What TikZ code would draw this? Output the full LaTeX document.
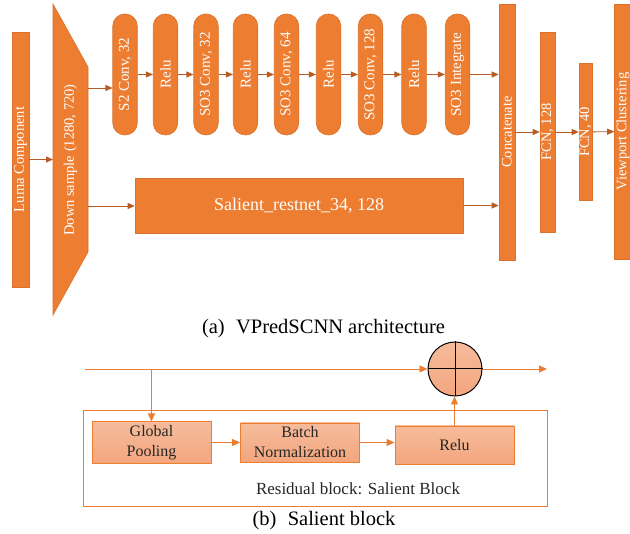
\documentclass[tikz,border=0pt]{standalone}
\usepackage{fontspec}
\setmainfont{Liberation Serif}
\usetikzlibrary{arrows.meta}
\definecolor{orfill}{HTML}{ED7D31}
\definecolor{ordraw}{HTML}{D9722C}
\definecolor{orarrow}{HTML}{B85C24}
\definecolor{salmontop}{HTML}{F6BC9C}
\definecolor{salmonbot}{HTML}{F3A67E}

\begin{document}
\begin{tikzpicture}[x=1pt,y=-1pt,
    blk/.style={draw=ordraw,fill=orfill,text=white,line width=0.6pt,inner sep=0pt,
      font=\fontsize{14.5}{16}\selectfont},
    layer/.style={blk,rotate=90},
    pill/.style={layer,rounded corners=12pt,minimum width=121pt,minimum height=24.5pt},
    link/.style={draw=orarrow,line width=0.8pt,-{Triangle[length=7pt,width=6pt]}},
    sbox/.style={draw=orfill,line width=0.8pt,top color=salmontop,bottom color=salmonbot,
      text=black!85,align=center,minimum width=119pt,minimum height=39pt,
      font=\fontsize{16}{20}\selectfont},
    flow/.style={draw=orfill,line width=0.9pt,-{Triangle[length=8pt,width=7pt]}}]
  \useasboundingbox (0,0) rectangle (630,534);

  % (a) VPredSCNN architecture
  \node[layer,minimum width=255pt,minimum height=17pt] (luma) at (20.5,159.5) {Luma Component};
  \filldraw[fill=orfill,draw=ordraw,line width=0.6pt] (53,4) -- (88,67) -- (88,252) -- (53,315) -- cycle;
  \node[rotate=90,text=white,font=\fontsize{14.5}{16}\selectfont] (down) at (70.5,160) {Down sample (1280, 720)};
  \coordinate (dsl) at (53,160);
  \coordinate (dsr1) at (88,88);
  \coordinate (dsr2) at (88,206);

  \foreach \i/\x/\lbl in {1/125/{S2 Conv, 32},2/165.5/Relu,3/206/{SO3 Conv, 32},4/245.5/Relu,
      5/286.5/{SO3 Conv, 64},6/328.5/Relu,7/370.5/{SO3 Conv, 128},8/414/Relu,9/457.5/SO3 Integrate}{
    \node[pill,font=\fontsize{15}{16}\selectfont] (p\i) at (\x,74.5) {\lbl};
  }
  \foreach \i [count=\j from 2] in {1,...,8}{
    \draw[link] (p\i) -- (p\j);
  }

  \node[blk,minimum width=328pt,minimum height=55pt,font=\fontsize{18}{20}\selectfont] (sal) at (299,205.5) {Salient\_restnet\_34, 128};
  \node[layer,minimum width=256pt,minimum height=16pt] (concat) at (507,132) {Concatenate};
  \node[layer,minimum width=200pt,minimum height=15pt] (fcn1) at (547.5,132) {FCN, 128};
  \node[layer,minimum width=137pt,minimum height=13pt] (fcn2) at (585.5,132) {FCN, 40};
  \node[layer,minimum width=255pt,minimum height=17pt] (view) at (623,131.5) {Viewport Clustering};

  \draw[link] (luma.south) -- (luma.south -| dsl);
  \draw[link] (dsr1) -- (dsr1 -| p1.north);
  \draw[link] (dsr2) -- (dsr2 -| sal.west);
  \draw[link] (p9.south) -- (p9.south -| concat.north);
  \draw[link] (sal.east) -- (sal.east -| concat.north);
  \draw[link] (concat) -- (fcn1);
  \draw[link] (fcn1) -- (fcn2);
  \draw[link] (fcn2) -- (view);

  \node[font=\fontsize{20.5}{22}\selectfont] (capa) at (323.5,329) {(a)\hspace{0.55em}VPredSCNN architecture};

  % (b) Salient block
  \node[draw=orfill,line width=1pt,minimum width=464pt,minimum height=96pt] (res) at (315,459) {};
  \node[text=black!85,font=\fontsize{17}{19}\selectfont] (reslbl) at (358,489) {Residual block: Salient Block};
  \node[sbox] (gp) at (151.5,442.5) {Global\\Pooling};
  \node[sbox] (bn) at (300,442.5) {Batch\\Normalization};
  \node[sbox,minimum height=38pt] (rb) at (454.5,445) {Relu};
  \node[circle,draw=black,line width=1pt,top color=salmontop,bottom color=salmonbot,minimum size=54pt] (sum) at (455,369) {};
  \draw[line width=1pt] (sum.north) -- (sum.south) (sum.west) -- (sum.east);
  \coordinate (in) at (85,369);
  \coordinate (out) at (547,369);

  \draw[flow] (in) -- (sum.west);
  \draw[flow] (sum.east) -- (out);
  \draw[flow] (in -| gp.north) -- (gp.north);
  \draw[flow] (gp) -- (bn);
  \draw[flow] (bn.east) -- (bn.east -| rb.west);
  \draw[flow] (rb.north) -- (rb.north |- sum.south);

  \node[font=\fontsize{20.5}{22}\selectfont] (capb) at (324,521) {(b)\hspace{0.55em}Salient block};
\end{tikzpicture}
\end{document}
